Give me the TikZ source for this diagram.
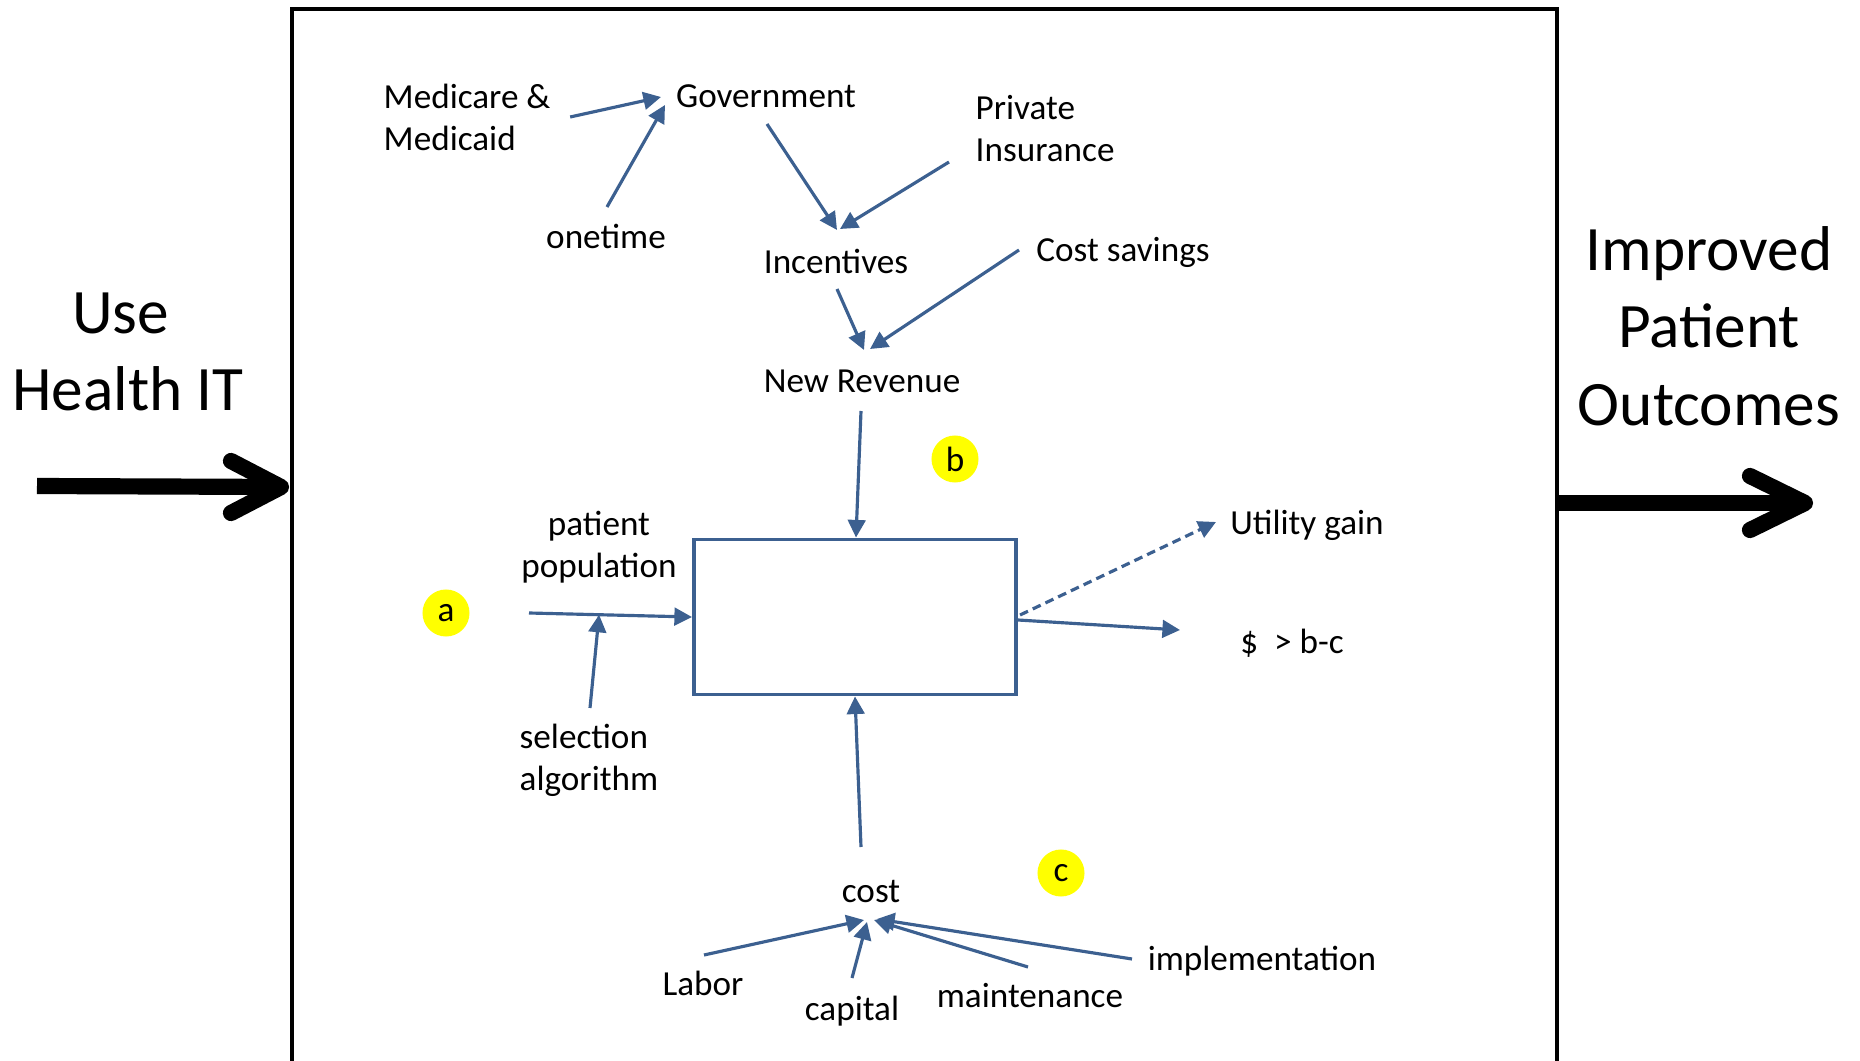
\documentclass[tikz,border=0pt]{standalone}
\usepackage{fontspec}
\setmainfont{Carlito}
\usetikzlibrary{arrows.meta,calc}
\definecolor{flow}{RGB}{60,96,144}
\definecolor{marker}{RGB}{255,255,0}

\begin{document}
\begin{tikzpicture}[x=0.01cm,y=-0.01cm,
  lbl/.style={inner sep=0pt, text height=8.4pt, text depth=2pt,
              font=\fontsize{10}{12}\selectfont},
  lblm/.style={inner sep=0pt, text height=7pt, text depth=2pt,
              font=\fontsize{10}{12}\selectfont},
  big/.style={inner sep=0pt, align=center, font=\fontsize{18}{22}\selectfont},
  tag/.style={circle, fill=marker, inner sep=0pt, minimum size=0.47cm,
              font=\fontsize{10}{12}\selectfont},
  core/.style={draw=flow, line width=1.1pt, minimum width=3.22cm, minimum height=1.55cm},
  link/.style={draw=flow, line width=0.9pt, -{Triangle[length=5pt,width=5pt]}},
  heavy/.style={draw=black, line width=4.6pt},
  chevron/.style={draw=black, line width=4.6pt, line cap=round, line join=round}]

\useasboundingbox (0,0) rectangle (1860,1061);
\clip (0,0) rectangle (1860,1061);

% outer frame (open towards the bottom edge)
\draw[black, line width=1pt] (292,1080) -- (292,9) -- (1557,9) -- (1557,1080);

% text labels
\node[lblm, anchor=west, align=left] (med) at (383,142) {Medicare \&\\Medicaid};
\node[lbl] (gov) at (766,96) {Government};
\node[lblm, anchor=west, align=left] (priv) at (975,153) {Private\\Insurance};
\node[lbl] (one) at (606,237) {onetime};
\node[lbl] (inc) at (836,262) {Incentives};
\node[lbl] (csav) at (1123,250) {Cost savings};
\node[lbl] (rev) at (862,381) {New Revenue};
\node[lblm, align=center] (pop) at (599,569) {patient\\population};
\node[lblm, anchor=west, align=left] (sel) at (519,782) {selection\\algorithm};
\node[lbl] (ug) at (1307,523) {Utility gain};
\node[lbl] (dol) at (1292,642) {\$\ \ > b-c};
\node[lbl] (cost) at (871,891) {cost};
\node[lbl] (lab) at (703,984) {Labor};
\node[lbl] (cap) at (852,1009) {capital};
\node[lbl] (mnt) at (1030,996) {maintenance};
\node[lbl] (impl) at (1262,959) {implementation};

% yellow markers
\node[tag] (ta) at (446,613) {a};
\node[tag] (tb) at (955,459) {b};
\node[tag] (tc) at (1061,873) {c};

% central box
\node[core] (core) at (855,617) {};

% funding chain
\draw[link] ($(med.east)+(19,-25)$) -- ($(gov)+(-105,1)$);
\draw[link] ($(one)+(1,-30)$) -- ($(gov)+(-101,9)$);
\draw[link] ($(gov)+(1,28)$) -- ($(inc)+(1,-32)$);
\draw[link] ($(priv.west)+(-26,9)$) -- ($(inc)+(4,-33)$);
\draw[link] ($(inc)+(1,27)$) -- ($(rev)+(2,-31)$);
\draw[link] ($(csav)+(-104,0)$) -- ($(rev)+(8,-32)$);
\draw[link] ($(rev)+(-1,30)$) -- ($(core.north)+(1,0)$);

% patient input
\coordinate (feed) at (529,613);
\draw[link] (feed) -- (core.west);
\coordinate (join) at ($(feed)!0.43!(core.west)$);
\draw[link] ($(sel.west)+(71,-74)$) -- (join);

% outputs
\draw[link, dash pattern=on 2.5pt off 1.5pt] ($(core.east)+(2,-2)$) -- ($(ug)+(-91,-1)$);
\draw[link] ($(core.east)+(0,3)$) -- ($(dol)+(-112,-12)$);

% cost inputs
\draw[link] ($(cost)+(-10,-44)$) -- (core.south);
\draw[link] ($(lab)+(1,-29)$) -- ($(cost)+(-7,29)$);
\draw[link] ($(cap)+(0,-31)$) -- ($(cost)+(-4,31)$);
\draw[link] ($(mnt)+(-2,-29)$) -- ($(cost)+(3,29)$);
\draw[link] ($(impl)+(-130,0)$) -- ($(cost)+(6,28)$);

% side captions and heavy arrows
\node[big] (use) at (128,352) {Use\hspace*{4.1pt}\\Health IT};
\node[big] (imp) at (1709,326) {Improved\\Patient\\Outcomes};

\coordinate (inL) at (37,486);
\coordinate (inR) at (281,487);
\draw[heavy] (inL) -- (inR);
\draw[chevron] (231,461) -- (inR) -- (231,513);

\coordinate (outL) at (1557,503);
\coordinate (outR) at (1805,503);
\draw[heavy] (outL) -- (outR);
\draw[chevron] (1750,476) -- (outR) -- (1750,530);
\end{tikzpicture}
\end{document}
